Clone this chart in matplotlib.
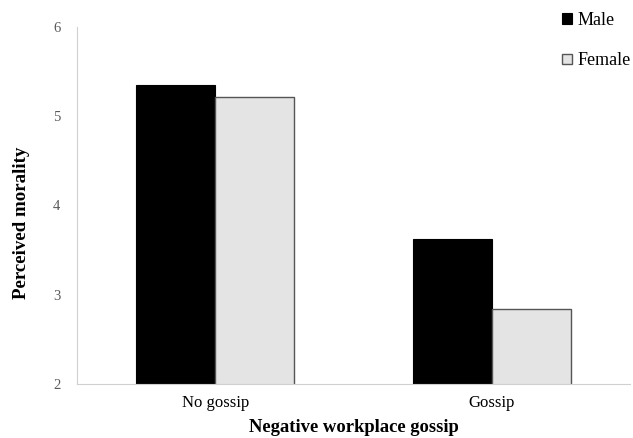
import numpy as np
import matplotlib.pyplot as plt

plt.rcParams['font.family'] = ['Liberation Serif', 'DejaVu Serif']

categories = ['No gossip', 'Gossip']
male = [5.35, 3.63]
female = [5.22, 2.84]

fig = plt.figure(figsize=(6.33, 4.38), dpi=100)
ax = fig.add_axes([0.1216, 0.1233, 0.8734, 0.8151])

x = np.arange(len(categories))
w = 0.286
b1 = ax.bar(x - w/2, male, w, color='black', edgecolor='black', linewidth=0.8, label='Male')
b2 = ax.bar(x + w/2, female, w, color='#e4e4e4', edgecolor='#555555', linewidth=1.0, label='Female')

ax.set_xlim(-0.5, 1.5)
ax.set_ylim(2, 6)
ax.set_yticks([2, 3, 4, 5, 6])
ax.set_xticks(x)
ax.set_xticklabels(categories, fontsize=12)
ax.tick_params(axis='y', length=0, labelsize=10.5, labelcolor='#595959', pad=12)
ax.tick_params(axis='x', length=0, pad=8)

for s in ['top', 'right']:
    ax.spines[s].set_visible(False)
ax.spines['left'].set_color('#d0d0d0')
ax.spines['bottom'].set_color('#d0d0d0')

ax.set_ylabel('Perceived morality', fontsize=13.6, fontweight='bold')
ax.yaxis.set_label_coords(-0.085, 0.451)
ax.set_xlabel('Negative workplace gossip', fontsize=13.4, fontweight='bold', labelpad=6)

fig.legend(handles=[b1, b2], loc='upper left', bbox_to_anchor=(0.862, 1.01),
           frameon=False, fontsize=13, handlelength=0.55, handleheight=0.55,
           handletextpad=0.3, labelspacing=1.3)

fig.savefig('out.png', dpi=100)
